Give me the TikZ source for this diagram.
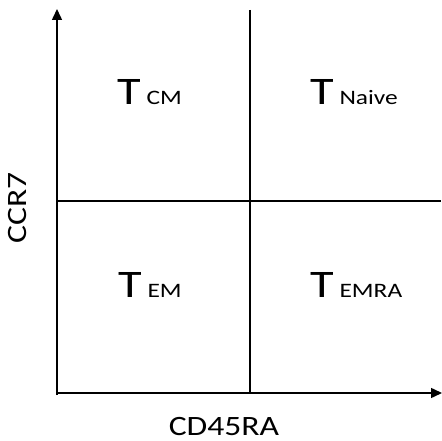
\documentclass[tikz,border=0pt]{standalone}
\usepackage{fontspec}
\setmainfont{Carlito}
\usetikzlibrary{arrows.meta}
\begin{document}
\begin{tikzpicture}[x=1pt,y=-1pt,
  axis/.style={line width=1.5pt,-{Triangle[length=11pt,width=10pt]}},
  divider/.style={line width=1.5pt},
  cell/.style={inner sep=0pt,anchor=base west,xscale=1.24},
  axislabel/.style={inner sep=0pt,font=\fontsize{28}{30}\selectfont}]
\useasboundingbox (0,0) rectangle (442,441);
% axis and divider end points
\coordinate (origin) at (57,395);
\coordinate (ytip) at (57,9);
\coordinate (xstart) at (58,393);
\coordinate (xtip) at (442,393);
\coordinate (vtop) at (250,10);
\coordinate (vbot) at (250,393);
\coordinate (hleft) at (57,201);
\coordinate (hright) at (441,201);
% axes
\draw[axis] (origin) -- (ytip);
\draw[axis] (xstart) -- (xtip);
% quadrant dividers
\draw[divider] (vtop) -- (vbot);
\draw[divider] (hleft) -- (hright);
% quadrant labels: large T followed by a smaller subset name
\newcommand{\tcell}[1]{{\fontsize{39}{41}\selectfont T}{\fontsize{20.5}{22}\selectfont\ #1}}
\node[cell] (tcm) at (117,105) {\tcell{CM}};
\node[cell] (tnaive) at (310,105) {\tcell{Naive}};
\node[cell] (tem) at (118,297) {\tcell{EM}};
\node[cell] (temra) at (310,297) {\tcell{EMRA}};
% axis labels
\node[axislabel,rotate=90,xscale=1.2] (ccr7) at (18,208) {CCR7};
\node[axislabel,xscale=1.2,anchor=base] (cd45ra) at (224,435) {CD45RA};
\end{tikzpicture}
\end{document}
